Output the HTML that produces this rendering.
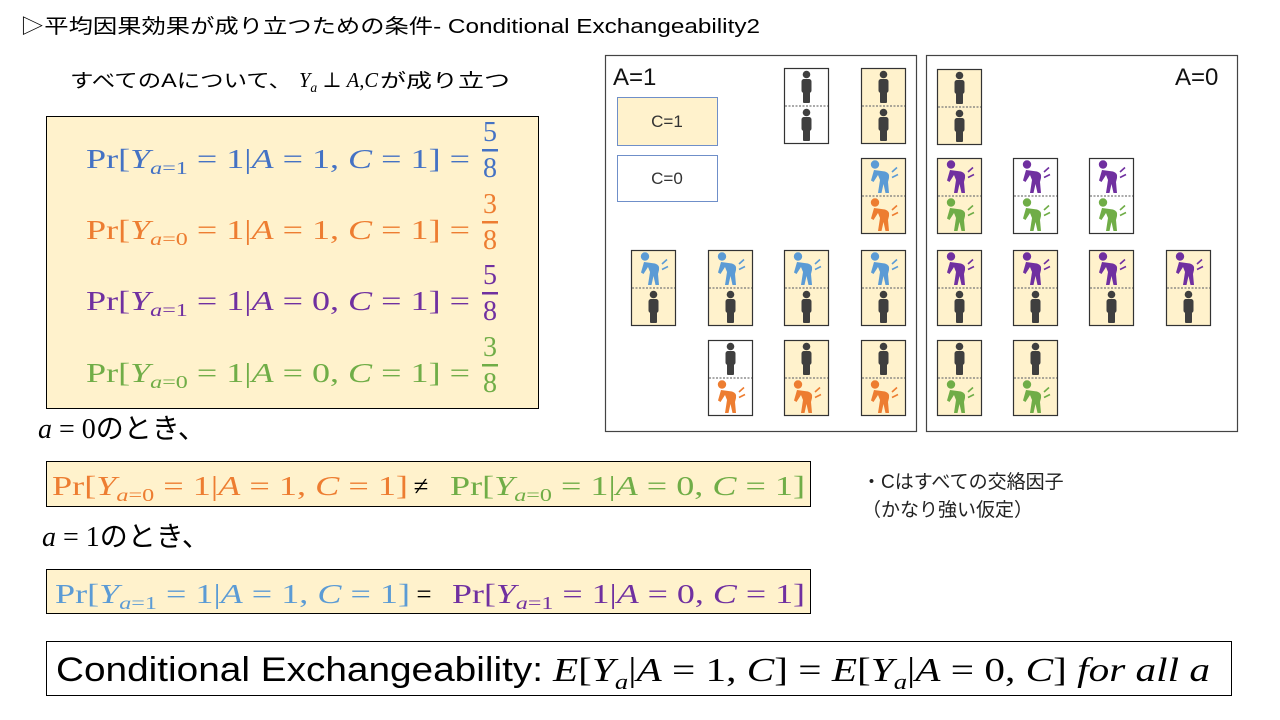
<!DOCTYPE html>
<html><head><meta charset="utf-8"><style>
html,body{margin:0;padding:0;background:#fff;width:1280px;height:720px;overflow:hidden}
svg{display:block}
.j{font-family:"Liberation Sans","Noto Sans CJK JP",sans-serif}
.m{font-family:"Liberation Serif","DejaVu Serif",serif}
.i{font-style:italic}
</style></head><body>
<svg width="1280" height="720" viewBox="0 0 1280 720" xmlns="http://www.w3.org/2000/svg">
<defs>
<g id="st"><circle cx="22.5" cy="6.5" r="3.8" fill="#3f3f3f"/><rect x="17.5" y="11" width="10" height="14" rx="2.5" fill="#3f3f3f"/><rect x="19" y="22" width="7" height="13" rx="1" fill="#3f3f3f"/></g>
<g id="sk"><circle cx="14" cy="6.5" r="4.2"/><path d="M13 12 L24 13.5 Q29 15 28 20 L27 24 L28 35 L24.5 35 L22.5 26 L20.5 35 L17 35 L19 22 L17 17 L12.5 24 L10 22.5 Z"/><path d="M31 14 L36 9.5 M31 19.5 L37 16.5" stroke-width="1.6" fill="none"/></g>
</defs>

<text class="j" x="20" y="33" font-size="20" textLength="740" lengthAdjust="spacingAndGlyphs">▷平均因果効果が成り立つための条件- Conditional Exchangeability2</text>
<text class="j" x="70" y="87" font-size="19" textLength="222" lengthAdjust="spacingAndGlyphs">すべてのAについて、</text>
<text class="m i" x="299" y="87" font-size="21" textLength="79" lengthAdjust="spacingAndGlyphs">Y<tspan font-size="14" dy="5">a</tspan><tspan font-style="normal" dy="-5"> ⊥ </tspan>A,C</text>
<text class="j" x="380" y="87" font-size="19" textLength="130" lengthAdjust="spacingAndGlyphs">が成り立つ</text>

<rect x="46.5" y="116.5" width="492" height="292" fill="#FFF2CC" stroke="#000" stroke-width="1"/>
<g class="m" font-size="27">
<text x="86" y="168" fill="#4472C4" textLength="384" lengthAdjust="spacingAndGlyphs">Pr[<tspan class="i">Y</tspan><tspan class="i" font-size="18" dy="6">a</tspan><tspan font-size="18">=1</tspan><tspan dy="-6"> = 1|</tspan><tspan class="i">A</tspan> = 1, <tspan class="i">C</tspan> = 1] =</text>
<text x="86" y="239" fill="#ED7D31" textLength="384" lengthAdjust="spacingAndGlyphs">Pr[<tspan class="i">Y</tspan><tspan class="i" font-size="18" dy="6">a</tspan><tspan font-size="18">=0</tspan><tspan dy="-6"> = 1|</tspan><tspan class="i">A</tspan> = 1, <tspan class="i">C</tspan> = 1] =</text>
<text x="86" y="310" fill="#7030A0" textLength="384" lengthAdjust="spacingAndGlyphs">Pr[<tspan class="i">Y</tspan><tspan class="i" font-size="18" dy="6">a</tspan><tspan font-size="18">=1</tspan><tspan dy="-6"> = 1|</tspan><tspan class="i">A</tspan> = 0, <tspan class="i">C</tspan> = 1] =</text>
<text x="86" y="382" fill="#70AD47" textLength="384" lengthAdjust="spacingAndGlyphs">Pr[<tspan class="i">Y</tspan><tspan class="i" font-size="18" dy="6">a</tspan><tspan font-size="18">=0</tspan><tspan dy="-6"> = 1|</tspan><tspan class="i">A</tspan> = 0, <tspan class="i">C</tspan> = 1] =</text>
</g>
<g class="m" font-size="28" text-anchor="middle">
<text x="490" y="141" fill="#4472C4">5</text><rect x="482" y="149" width="16" height="2.5" fill="#4472C4"/><text x="490" y="177" fill="#4472C4">8</text>
<text x="490" y="213" fill="#ED7D31">3</text><rect x="482" y="221" width="16" height="2.5" fill="#ED7D31"/><text x="490" y="249" fill="#ED7D31">8</text>
<text x="490" y="284" fill="#7030A0">5</text><rect x="482" y="292" width="16" height="2.5" fill="#7030A0"/><text x="490" y="320" fill="#7030A0">8</text>
<text x="490" y="356" fill="#70AD47">3</text><rect x="482" y="364" width="16" height="2.5" fill="#70AD47"/><text x="490" y="392" fill="#70AD47">8</text>
</g>

<text x="38" y="438" font-size="28"><tspan class="m i">a</tspan><tspan class="m"> = 0</tspan><tspan class="j">のとき、</tspan></text>
<rect x="46.5" y="461.5" width="764" height="45" fill="#FFF2CC" stroke="#000"/>
<g class="m" font-size="27">
<text x="52" y="495" fill="#ED7D31" textLength="356" lengthAdjust="spacingAndGlyphs">Pr[<tspan class="i">Y</tspan><tspan class="i" font-size="18" dy="6">a</tspan><tspan font-size="18">=0</tspan><tspan dy="-6"> = 1|</tspan><tspan class="i">A</tspan> = 1, <tspan class="i">C</tspan> = 1]</text>
<text x="421" y="495" fill="#000" text-anchor="middle">≠</text>
<text x="450" y="495" fill="#70AD47" textLength="355" lengthAdjust="spacingAndGlyphs">Pr[<tspan class="i">Y</tspan><tspan class="i" font-size="18" dy="6">a</tspan><tspan font-size="18">=0</tspan><tspan dy="-6"> = 1|</tspan><tspan class="i">A</tspan> = 0, <tspan class="i">C</tspan> = 1]</text>
</g>
<text x="42" y="546" font-size="28"><tspan class="m i">a</tspan><tspan class="m"> = 1</tspan><tspan class="j">のとき、</tspan></text>
<rect x="46.5" y="569.5" width="764" height="44" fill="#FFF2CC" stroke="#000"/>
<g class="m" font-size="27">
<text x="55" y="603" fill="#5B9BD5" textLength="355" lengthAdjust="spacingAndGlyphs">Pr[<tspan class="i">Y</tspan><tspan class="i" font-size="18" dy="6">a</tspan><tspan font-size="18">=1</tspan><tspan dy="-6"> = 1|</tspan><tspan class="i">A</tspan> = 1, <tspan class="i">C</tspan> = 1]</text>
<text x="424" y="603" fill="#000" text-anchor="middle">=</text>
<text x="452" y="603" fill="#7030A0" textLength="353" lengthAdjust="spacingAndGlyphs">Pr[<tspan class="i">Y</tspan><tspan class="i" font-size="18" dy="6">a</tspan><tspan font-size="18">=1</tspan><tspan dy="-6"> = 1|</tspan><tspan class="i">A</tspan> = 0, <tspan class="i">C</tspan> = 1]</text>
</g>

<rect x="46.5" y="641.5" width="1185" height="54" fill="#fff" stroke="#000"/>
<text class="j" x="56" y="681" font-size="34" textLength="487" lengthAdjust="spacingAndGlyphs">Conditional Exchangeability:</text>
<text class="m" x="553" y="681" font-size="34" textLength="657" lengthAdjust="spacingAndGlyphs"><tspan class="i">E</tspan>[<tspan class="i">Y</tspan><tspan class="i" font-size="22" dy="8">a</tspan><tspan dy="-8">|</tspan><tspan class="i">A</tspan> = 1, <tspan class="i">C</tspan>] = <tspan class="i">E</tspan>[<tspan class="i">Y</tspan><tspan class="i" font-size="22" dy="8">a</tspan><tspan dy="-8">|</tspan><tspan class="i">A</tspan> = 0, <tspan class="i">C</tspan>] <tspan class="i">for all a</tspan></text>

<text class="j" x="862" y="488" font-size="19" fill="#222">・Cはすべての交絡因子</text>
<text class="j" x="862" y="516" font-size="19" fill="#222">（かなり強い仮定）</text>

<rect x="605.5" y="55.5" width="311" height="376" fill="#fff" stroke="#444" stroke-width="1.2"/>
<rect x="926.5" y="55.5" width="311" height="376" fill="#fff" stroke="#444" stroke-width="1.2"/>
<text class="j" x="613" y="85" font-size="24" fill="#111">A=1</text>
<text class="j" x="1175" y="85" font-size="24" fill="#111">A=0</text>
<rect x="617.5" y="97.5" width="100" height="48" fill="#FFF2CC" stroke="#6F8FC9"/>
<text class="j" x="667" y="127" font-size="17" text-anchor="middle" fill="#333">C=1</text>
<rect x="617.5" y="155.5" width="100" height="46" fill="#fff" stroke="#6F8FC9"/>
<text class="j" x="667" y="184" font-size="17" text-anchor="middle" fill="#333">C=0</text>

<g stroke-width="1.2">
<g transform="translate(784,68)"><rect x="0.5" y="0.5" width="44" height="75" fill="#fff" stroke="#333"/><line x1="1" y1="38" x2="44" y2="38" stroke="#777" stroke-dasharray="2,1.5"/><use href="#st"/><use href="#st" y="38"/></g>
<g transform="translate(861,68)"><rect x="0.5" y="0.5" width="44" height="75" fill="#FFF2CC" stroke="#333"/><line x1="1" y1="38" x2="44" y2="38" stroke="#777" stroke-dasharray="2,1.5"/><use href="#st"/><use href="#st" y="38"/></g>
<g transform="translate(861,158)"><rect x="0.5" y="0.5" width="44" height="75" fill="#FFF2CC" stroke="#333"/><line x1="1" y1="38" x2="44" y2="38" stroke="#777" stroke-dasharray="2,1.5"/><use href="#sk" fill="#5B9BD5" stroke="#5B9BD5" stroke-width="0"/><use href="#sk" y="38" fill="#ED7D31" stroke="#ED7D31" stroke-width="0"/></g>

<g transform="translate(631,250)"><rect x="0.5" y="0.5" width="44" height="75" fill="#FFF2CC" stroke="#333"/><line x1="1" y1="38" x2="44" y2="38" stroke="#777" stroke-dasharray="2,1.5"/><use href="#sk" fill="#5B9BD5" stroke="#5B9BD5" stroke-width="0"/><use href="#st" y="38"/></g>
<g transform="translate(708,250)"><rect x="0.5" y="0.5" width="44" height="75" fill="#FFF2CC" stroke="#333"/><line x1="1" y1="38" x2="44" y2="38" stroke="#777" stroke-dasharray="2,1.5"/><use href="#sk" fill="#5B9BD5" stroke="#5B9BD5" stroke-width="0"/><use href="#st" y="38"/></g>
<g transform="translate(784,250)"><rect x="0.5" y="0.5" width="44" height="75" fill="#FFF2CC" stroke="#333"/><line x1="1" y1="38" x2="44" y2="38" stroke="#777" stroke-dasharray="2,1.5"/><use href="#sk" fill="#5B9BD5" stroke="#5B9BD5" stroke-width="0"/><use href="#st" y="38"/></g>
<g transform="translate(861,250)"><rect x="0.5" y="0.5" width="44" height="75" fill="#FFF2CC" stroke="#333"/><line x1="1" y1="38" x2="44" y2="38" stroke="#777" stroke-dasharray="2,1.5"/><use href="#sk" fill="#5B9BD5" stroke="#5B9BD5" stroke-width="0"/><use href="#st" y="38"/></g>

<g transform="translate(708,340)"><rect x="0.5" y="0.5" width="44" height="75" fill="#fff" stroke="#333"/><line x1="1" y1="38" x2="44" y2="38" stroke="#777" stroke-dasharray="2,1.5"/><use href="#st"/><use href="#sk" y="38" fill="#ED7D31" stroke="#ED7D31" stroke-width="0"/></g>
<g transform="translate(784,340)"><rect x="0.5" y="0.5" width="44" height="75" fill="#FFF2CC" stroke="#333"/><line x1="1" y1="38" x2="44" y2="38" stroke="#777" stroke-dasharray="2,1.5"/><use href="#st"/><use href="#sk" y="38" fill="#ED7D31" stroke="#ED7D31" stroke-width="0"/></g>
<g transform="translate(861,340)"><rect x="0.5" y="0.5" width="44" height="75" fill="#FFF2CC" stroke="#333"/><line x1="1" y1="38" x2="44" y2="38" stroke="#777" stroke-dasharray="2,1.5"/><use href="#st"/><use href="#sk" y="38" fill="#ED7D31" stroke="#ED7D31" stroke-width="0"/></g>

<g transform="translate(937,69)"><rect x="0.5" y="0.5" width="44" height="75" fill="#FFF2CC" stroke="#333"/><line x1="1" y1="38" x2="44" y2="38" stroke="#777" stroke-dasharray="2,1.5"/><use href="#st"/><use href="#st" y="38"/></g>

<g transform="translate(937,158)"><rect x="0.5" y="0.5" width="44" height="75" fill="#FFF2CC" stroke="#333"/><line x1="1" y1="38" x2="44" y2="38" stroke="#777" stroke-dasharray="2,1.5"/><use href="#sk" fill="#7030A0" stroke="#7030A0" stroke-width="0"/><use href="#sk" y="38" fill="#70AD47" stroke="#70AD47" stroke-width="0"/></g>
<g transform="translate(1013,158)"><rect x="0.5" y="0.5" width="44" height="75" fill="#fff" stroke="#333"/><line x1="1" y1="38" x2="44" y2="38" stroke="#777" stroke-dasharray="2,1.5"/><use href="#sk" fill="#7030A0" stroke="#7030A0" stroke-width="0"/><use href="#sk" y="38" fill="#70AD47" stroke="#70AD47" stroke-width="0"/></g>
<g transform="translate(1089,158)"><rect x="0.5" y="0.5" width="44" height="75" fill="#fff" stroke="#333"/><line x1="1" y1="38" x2="44" y2="38" stroke="#777" stroke-dasharray="2,1.5"/><use href="#sk" fill="#7030A0" stroke="#7030A0" stroke-width="0"/><use href="#sk" y="38" fill="#70AD47" stroke="#70AD47" stroke-width="0"/></g>

<g transform="translate(937,250)"><rect x="0.5" y="0.5" width="44" height="75" fill="#FFF2CC" stroke="#333"/><line x1="1" y1="38" x2="44" y2="38" stroke="#777" stroke-dasharray="2,1.5"/><use href="#sk" fill="#7030A0" stroke="#7030A0" stroke-width="0"/><use href="#st" y="38"/></g>
<g transform="translate(1013,250)"><rect x="0.5" y="0.5" width="44" height="75" fill="#FFF2CC" stroke="#333"/><line x1="1" y1="38" x2="44" y2="38" stroke="#777" stroke-dasharray="2,1.5"/><use href="#sk" fill="#7030A0" stroke="#7030A0" stroke-width="0"/><use href="#st" y="38"/></g>
<g transform="translate(1089,250)"><rect x="0.5" y="0.5" width="44" height="75" fill="#FFF2CC" stroke="#333"/><line x1="1" y1="38" x2="44" y2="38" stroke="#777" stroke-dasharray="2,1.5"/><use href="#sk" fill="#7030A0" stroke="#7030A0" stroke-width="0"/><use href="#st" y="38"/></g>
<g transform="translate(1166,250)"><rect x="0.5" y="0.5" width="44" height="75" fill="#FFF2CC" stroke="#333"/><line x1="1" y1="38" x2="44" y2="38" stroke="#777" stroke-dasharray="2,1.5"/><use href="#sk" fill="#7030A0" stroke="#7030A0" stroke-width="0"/><use href="#st" y="38"/></g>

<g transform="translate(937,340)"><rect x="0.5" y="0.5" width="44" height="75" fill="#FFF2CC" stroke="#333"/><line x1="1" y1="38" x2="44" y2="38" stroke="#777" stroke-dasharray="2,1.5"/><use href="#st"/><use href="#sk" y="38" fill="#70AD47" stroke="#70AD47" stroke-width="0"/></g>
<g transform="translate(1013,340)"><rect x="0.5" y="0.5" width="44" height="75" fill="#FFF2CC" stroke="#333"/><line x1="1" y1="38" x2="44" y2="38" stroke="#777" stroke-dasharray="2,1.5"/><use href="#st"/><use href="#sk" y="38" fill="#70AD47" stroke="#70AD47" stroke-width="0"/></g>
</g>
</svg>
</body></html>
